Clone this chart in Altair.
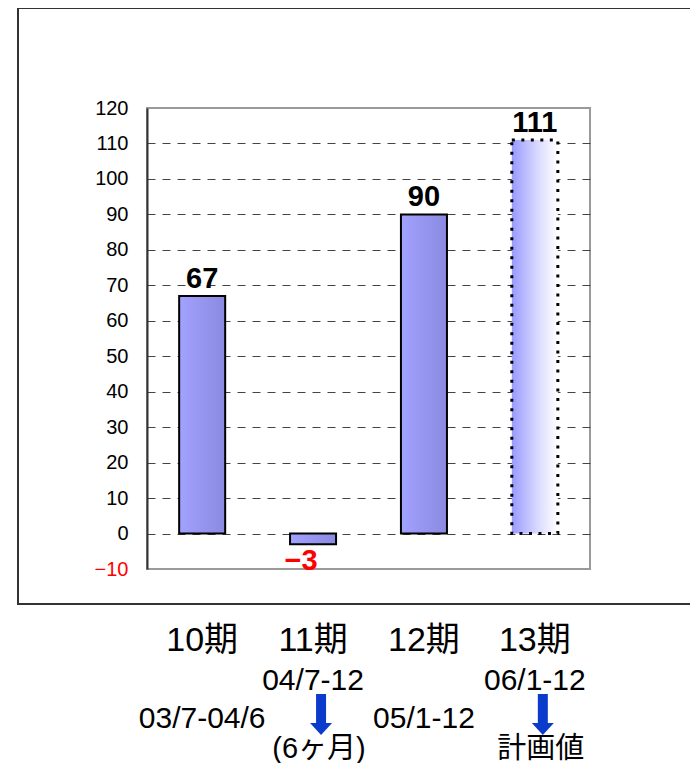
import altair as alt
import pandas as pd

# ---- data ----
periods = ["10期", "11期", "12期", "13期"]
values = [67, -3, 90, 111]
planned = [False, False, False, True]
date_ranges = ["03/7-04/6", "04/7-12", "05/1-12", "06/1-12"]
notes = ["", "(6ヶ月)", "", "計画値"]
y_ticks = list(range(-10, 121, 10))

df = pd.DataFrame({
    "period": periods,
    "value": values,
    "planned": planned,
    "date": date_ranges,
    "note": notes,
})

FONT = "Liberation Sans, Arial, Noto Sans CJK JP, sans-serif"
ARROW_BLUE = "#0b3bcc"

x_enc = alt.X(
    "period:N", sort=periods, axis=None,
    scale=alt.Scale(paddingInner=0.585, paddingOuter=0.29),
)
y_enc = alt.Y(
    "value:Q",
    scale=alt.Scale(domain=[-10, 120], nice=False),
    axis=alt.Axis(
        values=y_ticks, title=None, grid=True,
        gridDash=[8, 7], gridColor="#444444", gridWidth=1,
        gridOpacity={"condition": {"test": "datum.value == 120 || datum.value == -10", "value": 0}, "value": 1},
        labelColor={"condition": {"test": "datum.value < 0", "value": "#ff0000"}, "value": "#000000"},
        labelFont=FONT, labelFontSize=20, labelPadding=19,
        ticks=False, domainColor="#333333", domainWidth=2,
    ),
)

base = alt.Chart(df)

solid_fill = alt.Gradient(
    gradient="linear",
    stops=[alt.GradientStop(color="#a2a2ff", offset=0),
           alt.GradientStop(color="#8a8ae2", offset=1)],
    x1=0, x2=1, y1=0, y2=0,
)
plan_fill = alt.Gradient(
    gradient="linear",
    stops=[alt.GradientStop(color="#9a9aff", offset=0),
           alt.GradientStop(color="#d8d8ff", offset=0.55),
           alt.GradientStop(color="#ffffff", offset=1)],
    x1=0, x2=1, y1=0, y2=0,
)

frame = alt.Chart(alt.Data(values=[{"f": 1}])).mark_rect(
    fill="transparent", stroke="#333333", strokeWidth=2
).encode(
    x=alt.value(-129), x2=alt.value(640), y=alt.value(-100), y2=alt.value(496)
)

bars = base.mark_bar(fill=solid_fill, stroke="black", strokeWidth=2).encode(
    x=x_enc, y=y_enc, y2=alt.datum(0)
).transform_filter("!datum.planned")

plan_bar = base.mark_bar(
    fill=plan_fill, stroke="black", strokeWidth=3, strokeDash=[3, 6.5]
).encode(
    x=x_enc, y=y_enc, y2=alt.datum(0)
).transform_filter("datum.planned")

pos_labels = base.mark_text(
    font=FONT, fontSize=29, fontWeight="bold", baseline="alphabetic", dy=-8, color="#000000"
).encode(x=x_enc, y=y_enc, text="value:Q").transform_filter("datum.value >= 0")

neg_labels = base.mark_text(
    font=FONT, fontSize=29, fontWeight="bold", baseline="alphabetic", dy=26, dx=-12, color="#ff0000"
).encode(x=x_enc, y=y_enc, text="value:Q").transform_filter("datum.value < 0")

period_text = base.mark_text(
    font=FONT, fontSize=34, baseline="middle", color="#000000"
).encode(x=x_enc, y=alt.value(533), text="period:N")

date_upper = base.mark_text(
    font=FONT, fontSize=30, baseline="middle", color="#000000"
).encode(x=x_enc, y=alt.value(573), text="date:N").transform_filter("datum.note != ''")

date_lower = base.mark_text(
    font=FONT, fontSize=30, baseline="middle", color="#000000"
).encode(x=x_enc, y=alt.value(611), text="date:N").transform_filter("datum.note == ''")

note_text = base.mark_text(
    font=FONT, fontSize=29, baseline="middle", color="#000000", xOffset=6
).encode(x=x_enc, y=alt.value(641), text="note:N").transform_filter("datum.note != ''")

arrow_shaft = base.mark_rule(
    strokeWidth=10, color=ARROW_BLUE, xOffset=8
).encode(x=x_enc, y=alt.value(586), y2=alt.value(616)).transform_filter("datum.note != ''")

arrow_head = base.mark_point(
    shape="M-1,-0.55L1,-0.55L0,0.55Z", size=484, filled=True, opacity=1,
    color=ARROW_BLUE, xOffset=8
).encode(x=x_enc, y=alt.value(621)).transform_filter("datum.note != ''")

chart = alt.layer(
    frame, bars, plan_bar, pos_labels, neg_labels,
    period_text, date_upper, date_lower, note_text, arrow_shaft, arrow_head,
).properties(
    width=443, height=461,
    autosize=alt.AutoSizeParams(type="none"),
    padding={"left": 139, "top": 100, "right": 100, "bottom": 194},
    background="white",
).configure_view(stroke="#9a9a9a", strokeWidth=2)

chart.save("out.html", embed_options={"renderer": "svg", "actions": False})
